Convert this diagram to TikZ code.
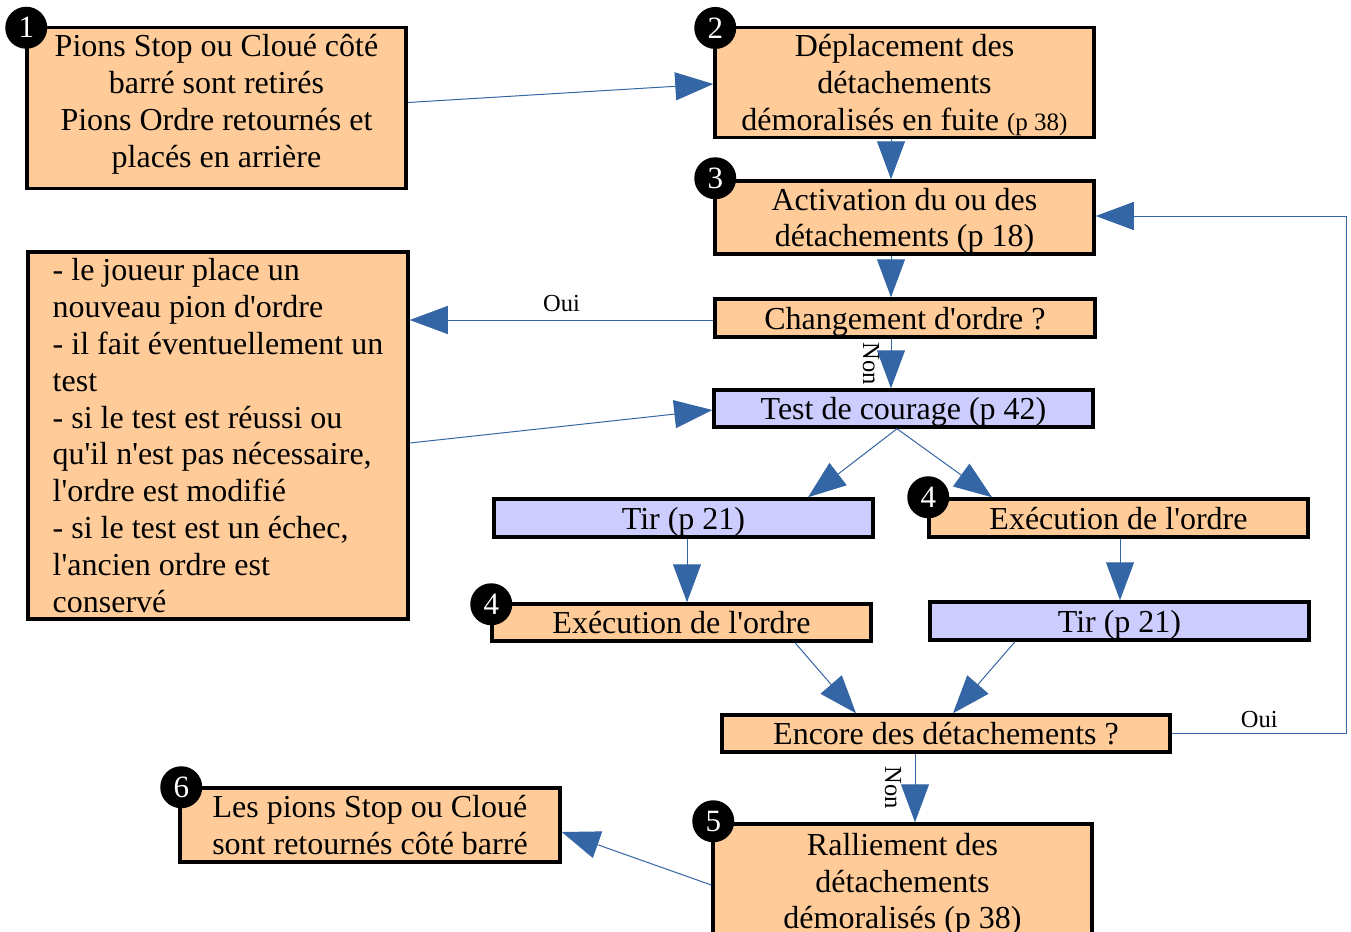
\documentclass[tikz,border=0pt]{standalone}
\usepackage{fontspec}
\setmainfont{Liberation Serif}[Ligatures=TeXOff]
\usetikzlibrary{arrows.meta,calc}
\definecolor{boxorange}{HTML}{FFCC99}
\definecolor{boxblue}{HTML}{CCCCFF}
\definecolor{linkblue}{HTML}{3465A4}
\newcommand{\tstr}{\rule{0pt}{29pt}}
\newcommand{\bstr}[1][7pt]{\rule[-#1]{0pt}{#1}}
\begin{document}
\begin{tikzpicture}[x=1pt,y=-1pt,
  box/.style={draw=black,line width=3.5pt,fill=boxorange,inner sep=0pt,align=center,font=\fontsize{32}{36.8}\selectfont},
  bluebox/.style={box,fill=boxblue},
  badge/.style={circle,fill=black,text=white,minimum size=42pt,inner sep=0pt,font=\fontsize{31}{31}\selectfont},
  link/.style={draw=linkblue,line width=1pt,-{Triangle[length=38pt,width=28pt]}},
  lab/.style={font=\fontsize{24.5}{24.5}\selectfont,inner sep=2pt}]
\useasboundingbox (0,0) rectangle (1351,931);

% boxes
\node[box,minimum width=379,minimum height=161] (b1) at (216.5,108)
  {\tstr Pions Stop ou Cloué côté\\barré sont retirés\\Pions Ordre retournés et\\placés en arrière\bstr[21pt]};
\node[box,minimum width=379,minimum height=109] (b2) at (904.5,82.5)
  {\tstr Déplacement des\\détachements\\démoralisés en fuite {\fontsize{25}{25}\selectfont (p 38)}\bstr};
\node[box,minimum width=379,minimum height=73] (b3) at (904.5,217.5)
  {\tstr Activation du ou des\\détachements (p 18)\bstr};
\node[box,minimum width=380,minimum height=38] (bq) at (905,318)
  {\tstr Changement d'ordre ?\bstr};
\node[bluebox,minimum width=379,minimum height=37] (bt) at (903.5,408.5)
  {\tstr Test de courage (p 42)\bstr};
\node[box,minimum width=380,minimum height=367,align=left] (bl) at (218,435.5)
  {\tstr - le joueur place un\\nouveau pion d'ordre\\- il fait éventuellement un\\test\\- si le test est réussi ou\\qu'il n'est pas nécessaire,\\l'ordre est modifié\\- si le test est un échec,\\l'ancien ordre est\\conservé\bstr};
\node[bluebox,minimum width=379,minimum height=38] (tirL) at (683.5,518)
  {\tstr Tir (p 21)\bstr};
\node[box,minimum width=379,minimum height=38] (exR) at (1118.5,518)
  {\tstr Exécution de l'ordre\bstr};
\node[box,minimum width=379,minimum height=37] (exL) at (681.5,622.5)
  {\tstr Exécution de l'ordre\bstr};
\node[bluebox,minimum width=379,minimum height=38] (tirR) at (1119.5,621)
  {\tstr Tir (p 21)\bstr};
\node[box,minimum width=448,minimum height=37] (enc) at (946,733.5)
  {\tstr Encore des détachements ?\bstr};
\node[box,minimum width=379,minimum height=114] (ral) at (902.5,881)
  {\tstr Ralliement des\\détachements\\démoralisés (p 38)\bstr};
\node[box,minimum width=380,minimum height=74] (b6) at (370,825)
  {\tstr Les pions Stop ou Cloué\\sont retournés côté barré\bstr};

% badges
\node[badge] (n1) at ([shift={(1pt,-2pt)}]b1.north west) {1};
\node[badge] (n2) at ([shift={(2pt,-2pt)}]b2.north west) {2};
\node[badge] (n3) at ([shift={(2pt,1pt)}]b3.north west) {3};
\node[badge] (n4a) at ([shift={(1pt,0pt)}]exR.north west) {4};
\node[badge] (n4b) at ([shift={(1pt,-2pt)}]exL.north west) {4};
\node[badge] (n5) at ([shift={(2pt,1pt)}]ral.north west) {5};
\node[badge] (n6) at ([shift={(3pt,-1pt)}]b6.north west) {6};

% connectors
\draw[link] ([yshift=5.5pt]b1.east) -- ([yshift=-1.5pt]b2.west);
\draw[link] ([xshift=-13.5pt]b2.south) -- ([xshift=-13.5pt]b3.north);
\draw[link] ([xshift=-13.5pt]b3.south) -- ([xshift=-14pt]bq.north);
\draw[link] ([yshift=-2pt]bq.west) -- ([yshift=-2pt]bq.west -| bl.east) node[lab,midway,above,yshift=6pt]{Oui};
\draw[link] ([xshift=-14pt]bq.south) -- ([xshift=-12.5pt]bt.north)
  node[lab,midway,xshift=-20pt,rotate=-90]{Non};
\draw[link] ([yshift=-7.5pt]bl.east) -- ([yshift=-1.5pt]bt.west);
\draw[link] ([xshift=-6.5pt]bt.south) -- ([xshift=124.5pt]tirL.north);
\draw[link] ([xshift=-6.5pt]bt.south) -- ([xshift=-126.5pt]exR.north);
\draw[link] ([xshift=3.5pt]tirL.south) -- ([xshift=5.5pt]exL.north);
\draw[link] ([xshift=1.5pt]exR.south) -- ([xshift=0.5pt]tirR.north);
\draw[link] ([xshift=113.5pt]exL.south) -- ([xshift=-90pt]enc.north);
\draw[link] ([xshift=-104.5pt]tirR.south) -- ([xshift=7pt]enc.north);
\draw[link] ([xshift=-31pt]enc.south) -- ([xshift=12.5pt]ral.north)
  node[lab,midway,xshift=-22pt,rotate=-90]{Non};
\draw[link] (enc.east) -- ++(175,0) node[lab,midway,above,yshift=3pt]{Oui} |- ([yshift=1.5pt]b3.east);
\draw[link] ([yshift=-4pt]ral.west) -- ([yshift=-7pt]b6.east);
\end{tikzpicture}
\end{document}
